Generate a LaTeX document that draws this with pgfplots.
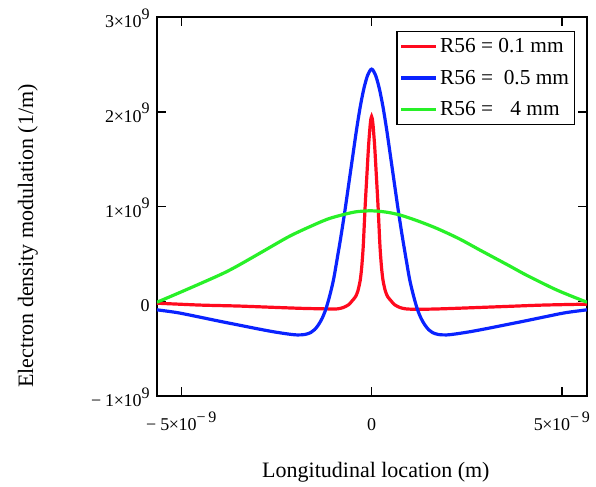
\documentclass[border=0pt]{standalone}
\usepackage{pgfplots}
\pgfplotsset{compat=1.18}
\usepackage{fontspec}
\setmainfont{Liberation Serif}

\definecolor{cred}{RGB}{255,10,30}
\definecolor{cblue}{RGB}{10,35,255}
\definecolor{cgreen}{RGB}{40,240,40}

% Mathcad style number: 3x10^9 with a big exponent
\newcommand{\tsci}[2]{#1{\kern-0.3pt}×{\kern-0.3pt}10\raisebox{1.05ex}{\fontsize{12}{12}\selectfont #2}}

\begin{document}
\begin{tikzpicture}
\begin{axis}[
    width=322.5pt, height=284.25pt,
    scale only axis,
    clip mode=individual,
    xmin=-5.64, xmax=5.66,
    ymin=-1, ymax=3,
    axis line style={line width=1.3pt},
    tick align=inside,
    major tick length=7pt,
    tick style={line width=1.1pt, black},
    xtick={-5,0,5},
    xticklabels={−\hspace{3pt}\tsci{5}{−\hspace{2pt}9}, 0, \tsci{5}{−\hspace{2pt}9}},
    ytick={-1,0,1,2,3},
    yticklabels={−\hspace{3pt}\tsci{1}{9}, 0, \tsci{1}{9}, \tsci{2}{9}, \tsci{3}{9}},
    ticklabel style={font=\fontsize{13.5}{15}\selectfont},
    xticklabel style={anchor=base, yshift=-26pt},
    yticklabel style={anchor=base east, xshift=-2pt, yshift=-8pt},
    xlabel={Longitudinal location (m)},
    ylabel={Electron density modulation (1/m)},
    label style={font=\fontsize{16.5}{19}\selectfont},
    xlabel style={at={(axis description cs:0.509,-0.2005)}, anchor=center},
    ylabel style={at={(axis description cs:-0.30,0.422)}, anchor=center},
    legend style={at={(0.972,0.963)}, anchor=north east, draw=black,
        line width=1pt, font=\fontsize{16}{19}\selectfont,
        inner xsep=2pt, inner ysep=3pt, row sep=7.5pt},
    legend cell align=left,
    legend image code/.code={\draw[#1, line width=2.4pt] (0pt,0pt) -- (26pt,0pt);},
]

\addplot[cred, line width=2.4pt, smooth, tension=0.4] coordinates {
(-5.64,-0.02) (-4.5,-0.04) (-3.5,-0.05) (-2.5,-0.065) (-1.8,-0.075) (-1.2,-0.08)
(-0.9,-0.08) (-0.74,-0.065) (-0.6,-0.035) (-0.5,0.01) (-0.42,0.05) (-0.36,0.11)
(-0.30,0.22) (-0.26,0.36) (-0.22,0.58) (-0.17,1.0) (-0.12,1.36) (-0.08,1.64)
(-0.04,1.85) (-0.02,1.92) (0,1.95) (0.02,1.92)
(0.04,1.85) (0.08,1.64) (0.12,1.36) (0.17,1.0) (0.22,0.58) (0.26,0.36)
(0.30,0.22) (0.36,0.11) (0.42,0.05) (0.5,0.01) (0.6,-0.035) (0.74,-0.065)
(0.9,-0.08) (1.2,-0.085) (1.8,-0.08) (2.5,-0.07) (3.5,-0.055) (4.5,-0.04) (5.66,-0.03)
};
\addlegendentry{R56 = 0.1 mm}

\addplot[cblue, line width=2.4pt, smooth, tension=0.5] coordinates {
(-5.64,-0.09) (-5.1,-0.12) (-4.6,-0.16) (-4.0,-0.21) (-3.5,-0.25) (-3.0,-0.29)
(-2.6,-0.32) (-2.2,-0.345) (-1.95,-0.355) (-1.75,-0.35) (-1.6,-0.33) (-1.5,-0.30)
(-1.4,-0.25) (-1.3,-0.18) (-1.2,-0.08) (-1.1,0.06) (-1.0,0.23) (-0.9,0.46)
(-0.8,0.70) (-0.7,0.96) (-0.6,1.24) (-0.5,1.52) (-0.4,1.80) (-0.3,2.05)
(-0.2,2.25) (-0.1,2.39) (0,2.45)
(0.1,2.39) (0.2,2.25) (0.3,2.05) (0.4,1.80) (0.5,1.52) (0.6,1.24) (0.7,0.96)
(0.8,0.70) (0.9,0.46) (1.0,0.23) (1.1,0.06) (1.2,-0.08) (1.3,-0.18) (1.4,-0.25)
(1.5,-0.30) (1.6,-0.33) (1.75,-0.35) (1.97,-0.355) (2.2,-0.345) (2.6,-0.32)
(3.0,-0.29) (3.5,-0.25) (4.0,-0.21) (4.6,-0.16) (5.1,-0.12) (5.66,-0.09)
};
\addlegendentry{R56 =\hspace{4pt} 0.5 mm}

\addplot[cgreen, line width=2.4pt, smooth, tension=0.5] coordinates {
(-5.64,-0.01) (-4.94,0.11) (-3.98,0.28) (-3.54,0.37) (-2.84,0.53) (-2.14,0.69)
(-1.44,0.82) (-1.1,0.875) (-0.74,0.915) (-0.4,0.945) (0,0.955) (0.4,0.94)
(0.75,0.91) (1.2,0.85) (1.71,0.77) (2.3,0.66) (2.85,0.54) (3.64,0.37) (4.0,0.29)
(4.86,0.12) (5.66,-0.01)
};
\addlegendentry{R56 =\hspace{9pt} 4 mm}

\path (axis description cs:-0.365,-0.2375) rectangle (axis description cs:1.0209,1.0449);
\end{axis}
\end{tikzpicture}
\end{document}
